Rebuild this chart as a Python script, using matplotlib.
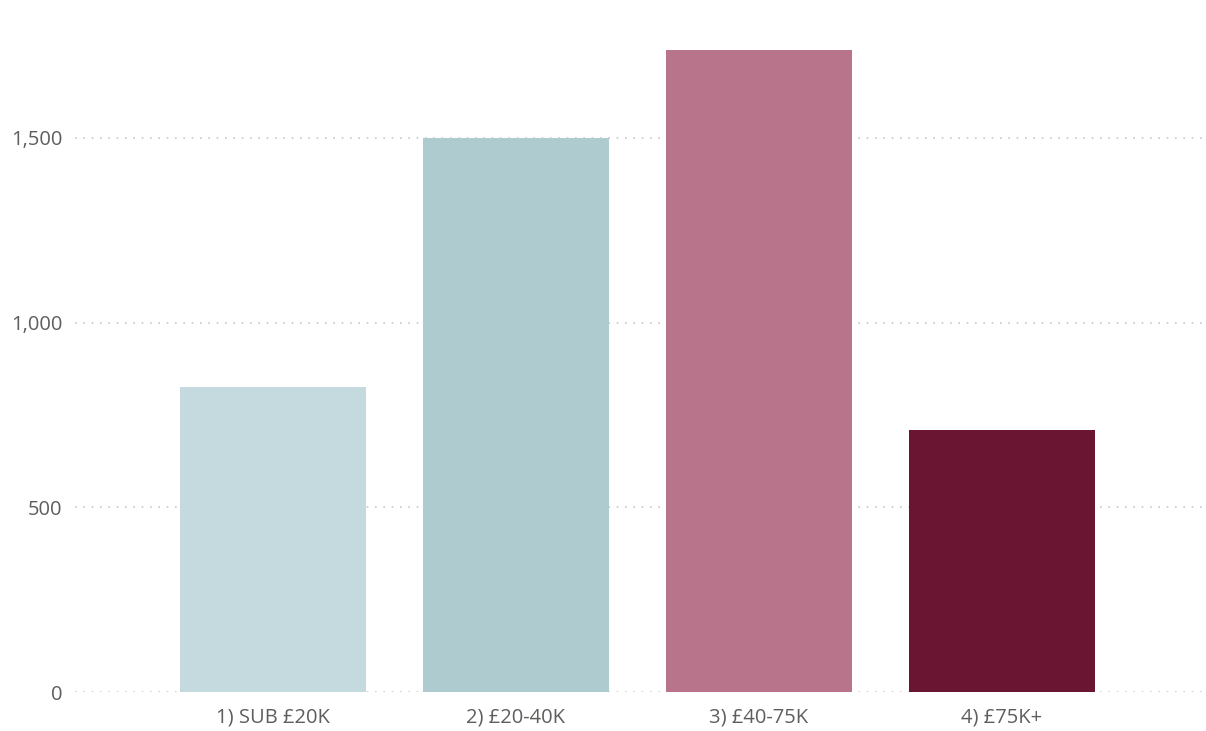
import matplotlib
matplotlib.use("Agg")
import matplotlib.pyplot as plt
from matplotlib.ticker import FuncFormatter

categories = ["1) SUB £20K", "2) £20-40K", "3) £40-75K", "4) £75K+"]
values = [826, 1500, 1738, 709]
colors = ["#c5dade", "#aecbd0", "#b8748b", "#6a1531"]
yticks = [0, 500, 1000, 1500]

plt.rcParams["font.family"] = ["Open Sans", "DejaVu Sans"]

fig = plt.figure(figsize=(12.06, 7.31), dpi=100)
ax = fig.add_axes([75 / 1206, 39 / 731, 1131 / 1206, 692 / 731])

x = list(range(len(categories)))
ax.bar(x, values, width=0.766, color=colors, zorder=2)

ax.set_xlim(-0.815, 3.84)
ax.set_ylim(0, 1873)
ax.set_yticks(yticks)
ax.yaxis.set_major_formatter(FuncFormatter(lambda v, p: f"{int(v):,}"))
ax.set_xticks(x)
ax.set_xticklabels(categories)

ax.grid(axis="y", color="#c8c8c8", linestyle=(0, (1, 4)), linewidth=1.2, zorder=1)
for s in ax.spines.values():
    s.set_visible(False)
ax.tick_params(axis="both", length=0, colors="#605e5c")
ax.tick_params(axis="y", pad=9, labelsize=14.5)
ax.tick_params(axis="x", pad=11, labelsize=14.5)

fig.savefig("out.png", dpi=100, facecolor="white")
